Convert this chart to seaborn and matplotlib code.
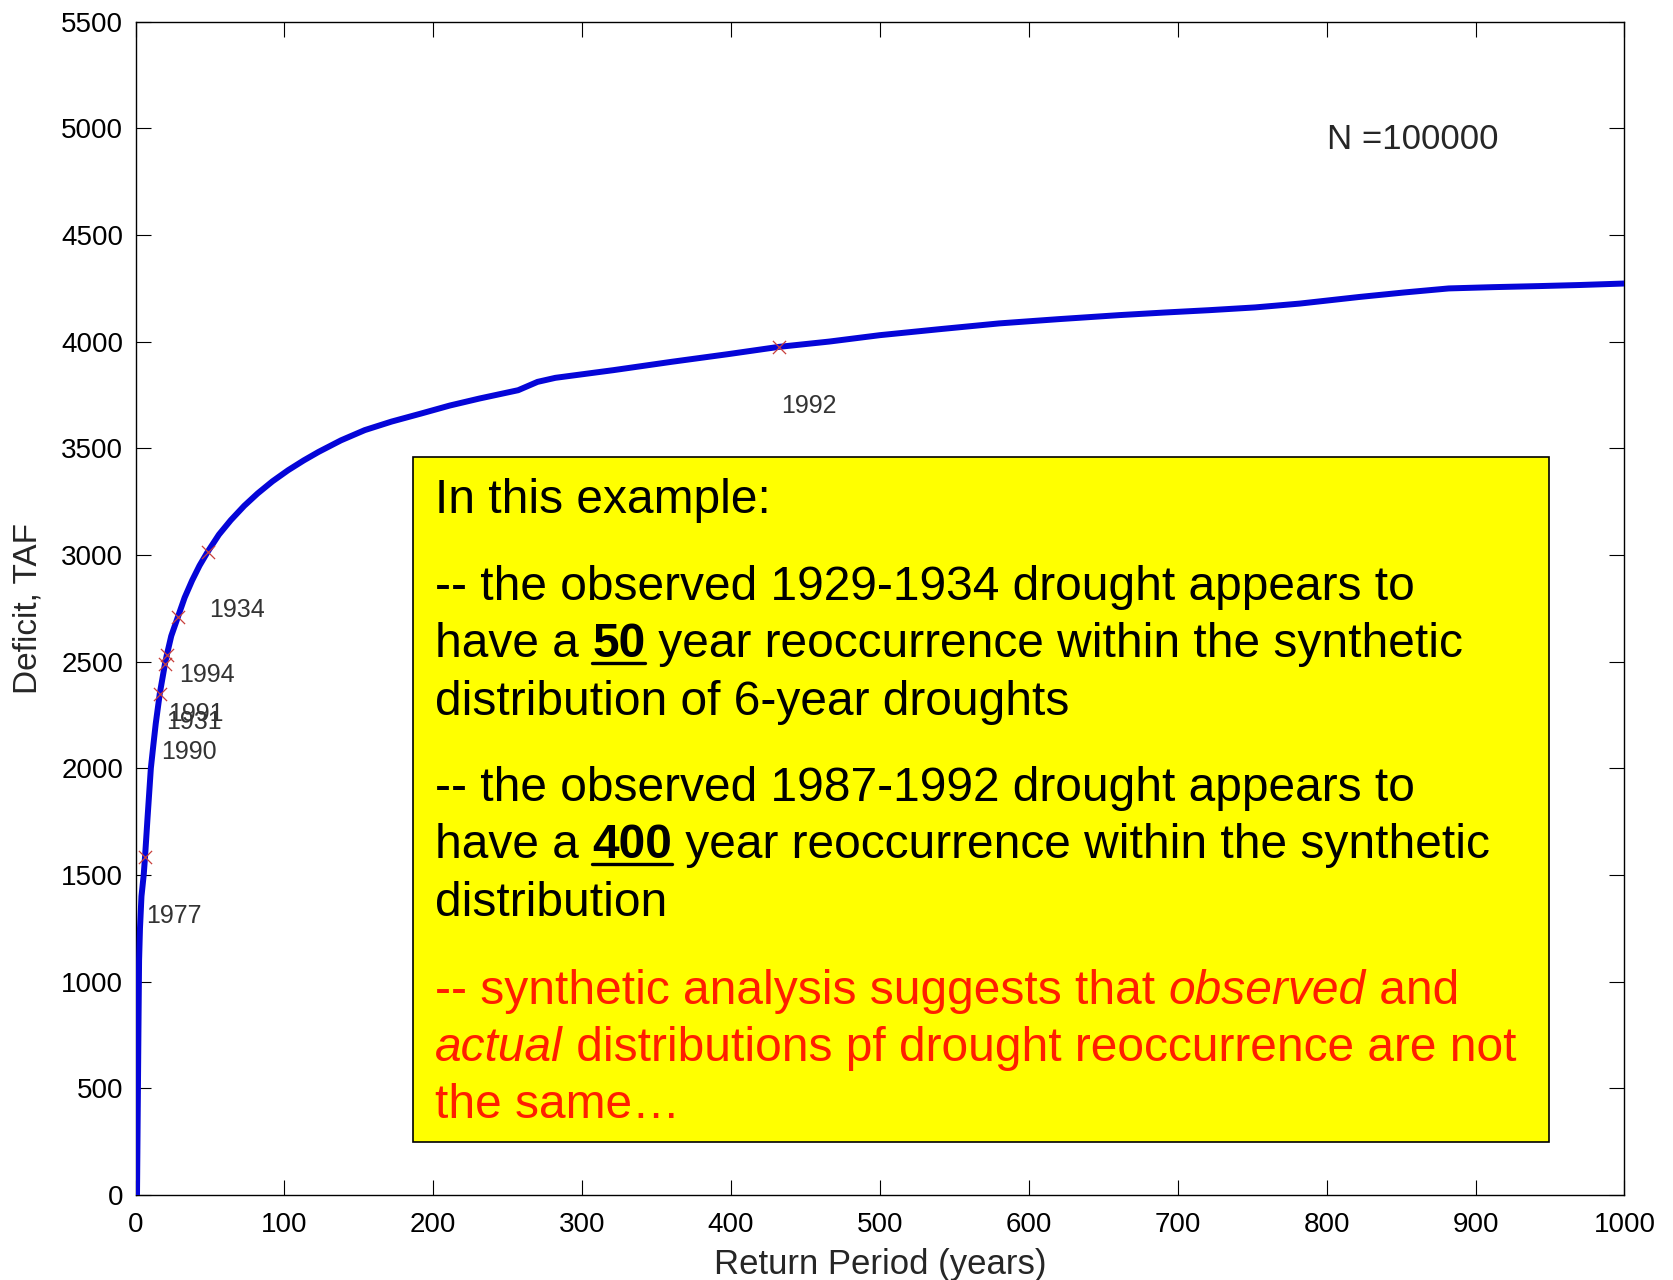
import matplotlib
matplotlib.use("Agg")
import matplotlib.pyplot as plt
from matplotlib.lines import Line2D
from matplotlib.patches import Rectangle
from matplotlib.font_manager import FontProperties
import seaborn as sns

# ── Data ────────────────────────────────────────────────────
return_period = [1, 1.5, 2, 2.4, 3, 4, 5.5, 6.4, 8, 10.3,
                 12, 13.6, 16.3, 19.8, 21, 24, 28.5, 33, 38, 43,
                 48.5, 56, 64, 73, 82, 92, 102.5, 113, 123, 138,
                 154, 172, 192, 211, 231, 257, 270, 282, 321, 360,
                 398, 432, 466, 500, 540, 580, 620, 661, 691, 721,
                 752, 782, 822, 852, 882, 912, 943, 970, 1000]
deficit = [0, 400, 800, 1100, 1250, 1400, 1500, 1585, 1760, 2000,
           2110, 2210, 2350, 2490, 2530, 2620, 2710, 2800, 2880, 2950,
           3015, 3095, 3163, 3230, 3288, 3345, 3397, 3443, 3483, 3537,
           3585, 3625, 3663, 3700, 3733, 3772, 3811, 3830, 3866, 3905,
           3941, 3975, 4000, 4030, 4058, 4085, 4105, 4124, 4136, 4147,
           4160, 4178, 4209, 4230, 4249, 4255, 4260, 4265, 4272]

obs_years = ["1977", "1990", "1931", "1991", "1994", "1934", "1992"]
obs_period = [6.4, 16.3, 19.8, 21.0, 28.5, 48.5, 432.5]
obs_deficit = [1585, 2350, 2490, 2530, 2710, 3015, 3975]

x_ticks = list(range(0, 1001, 100))
y_ticks = list(range(0, 5501, 500))

# ── Layout ───────────────────────────────────────────────────
W, H = 1673, 1280
FONT = "Liberation Sans"
BOX_SIZE = 34.5
TEXT_X = 435

sns.set_style("ticks")
plt.rcParams["font.family"] = [FONT, "DejaVu Sans"]

fig = plt.figure(figsize=(W / 100, H / 100), dpi=100)
ax = fig.add_axes([0.081, 0.0664, 0.890, 0.9168])

sns.lineplot(x=return_period, y=deficit, ax=ax, color="#0505d8", lw=4.3,
             estimator=None, sort=False, zorder=3)
sns.scatterplot(x=obs_period, y=obs_deficit, ax=ax, marker="x", color="#c8403c",
                s=90, linewidth=0.9, zorder=4)
for yr, px, py in zip(obs_years, obs_period, obs_deficit):
    ax.text(px + 0.8, py - 275, yr, fontsize=18, color="#333333",
            va="center", ha="left")

ax.text(800, 4945, "N =100000", fontsize=25, va="center", ha="left")

ax.set_xlim(0, 1000)
ax.set_ylim(0, 5500)
ax.set_xticks(x_ticks)
ax.set_yticks(y_ticks)
ax.tick_params(direction="in", top=True, right=True, length=11, width=0.8,
               labelsize=20, colors="black")
ax.tick_params(axis="x", pad=12)
ax.tick_params(axis="y", pad=9)
for sp in ax.spines.values():
    sp.set_color("black")
    sp.set_linewidth(1.0)

ax.set_xlabel("Return Period (years)", fontsize=25)
ax.set_ylabel("Deficit, TAF", fontsize=24)
ax.xaxis.set_label_coords(0.5, -0.045)
ax.yaxis.set_label_coords(-0.0615, 0.5)

# yellow annotation box
ax.add_patch(Rectangle((186.3, 250), 949.4 - 186.3, 3460 - 250,
                       facecolor="#ffff00", edgecolor="black", lw=1.2, zorder=5))

# ── Box text, drawn as runs so bold/italic/underline can mix ──
RED = "#ff1e00"
box_lines = [
    (513, "black", [("In this example:", "normal", "normal", False)]),
    (600, "black", [("-- the observed 1929-1934 drought appears to", "normal", "normal", False)]),
    (657, "black", [("have a ", "normal", "normal", False), ("50", "bold", "normal", True),
                    (" year reoccurrence within the synthetic", "normal", "normal", False)]),
    (715, "black", [("distribution of 6-year droughts", "normal", "normal", False)]),
    (801, "black", [("-- the observed 1987-1992 drought appears to", "normal", "normal", False)]),
    (858, "black", [("have a ", "normal", "normal", False), ("400", "bold", "normal", True),
                    (" year reoccurrence within the synthetic", "normal", "normal", False)]),
    (916, "black", [("distribution", "normal", "normal", False)]),
    (1004, RED, [("-- synthetic analysis suggests that ", "normal", "normal", False),
                 ("observed", "normal", "italic", False), (" and", "normal", "normal", False)]),
    (1061, RED, [("actual", "normal", "italic", False),
                 (" distributions pf drought reoccurrence are not", "normal", "normal", False)]),
    (1118, RED, [("the same\u2026", "normal", "normal", False)]),
]

renderer = fig.canvas.get_renderer()


def _advance(s, prop):
    w1 = renderer.get_text_width_height_descent("x" + s + "x", prop, ismath=False)[0]
    w0 = renderer.get_text_width_height_descent("xx", prop, ismath=False)[0]
    return w1 - w0


for ytop, color, runs in box_lines:
    x = TEXT_X
    yb = H - ytop
    for txt, weight, style, under in runs:
        prop = FontProperties(family=FONT, size=BOX_SIZE, weight=weight, style=style)
        fig.text(x / W, yb / H, txt, fontproperties=prop, color=color,
                 va="baseline", ha="left", zorder=6)
        w = _advance(txt, prop)
        if under:
            fig.add_artist(Line2D([x / W, (x + w) / W], [(yb - 6) / H] * 2,
                                  transform=fig.transFigure, color=color,
                                  lw=2.4, zorder=6))
        x += w

fig.savefig("out.png", dpi=100)
